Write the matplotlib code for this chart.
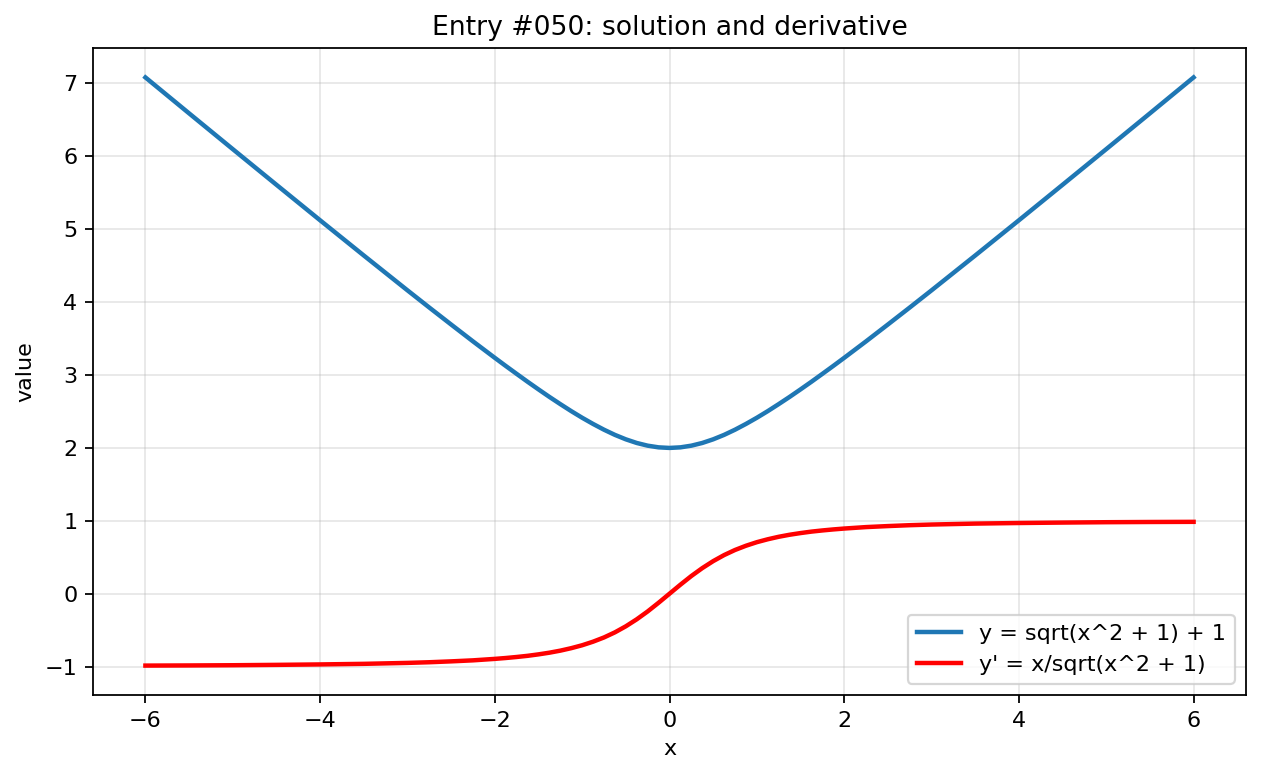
import matplotlib
matplotlib.use("Agg")
import matplotlib.pyplot as plt

#points (denser near the middle where the curves bend)
x_vals = [-6, -5.5, -5, -4.5, -4, -3.5, -3, -2.75, -2.5, -2.25, -2, -1.875, -1.75, -1.625, -1.5,
          -1.375, -1.25, -1.125, -1, -0.875, -0.75, -0.625, -0.5, -0.375, -0.25, -0.125,
          0,
          0.125, 0.25, 0.375, 0.5, 0.625, 0.75, 0.875, 1, 1.125, 1.25, 1.375, 1.5, 1.625, 1.75,
          1.875, 2, 2.25, 2.5, 2.75, 3, 3.5, 4, 4.5, 5, 5.5, 6]
y_vals = [7.083, 6.590, 6.099, 5.610, 5.123, 4.640, 4.162, 3.926, 3.693, 3.462, 3.236, 3.125, 3.016,
          2.908, 2.803, 2.700, 2.601, 2.505, 2.414, 2.329, 2.250, 2.179, 2.118, 2.068, 2.031, 2.008,
          2.000,
          2.008, 2.031, 2.068, 2.118, 2.179, 2.250, 2.329, 2.414, 2.505, 2.601, 2.700, 2.803, 2.908,
          3.016, 3.125, 3.236, 3.462, 3.693, 3.926, 4.162, 4.640, 5.123, 5.610, 6.099, 6.590, 7.083]
dy_vals = [-0.986, -0.984, -0.981, -0.976, -0.970, -0.962, -0.949, -0.940, -0.928, -0.914, -0.894,
           -0.882, -0.868, -0.852, -0.832, -0.809, -0.781, -0.747, -0.707, -0.658, -0.600, -0.530,
           -0.447, -0.351, -0.243, -0.124,
           0.0,
           0.124, 0.243, 0.351, 0.447, 0.530, 0.600, 0.658, 0.707, 0.747, 0.781, 0.809, 0.832, 0.852,
           0.868, 0.882, 0.894, 0.914, 0.928, 0.940, 0.949, 0.962, 0.970, 0.976, 0.981, 0.984, 0.986]

fig = plt.figure(figsize=(1261 / 160, 776 / 160), dpi=160)
ax = fig.add_axes([93 / 1261, 1 - 695 / 776, (1246 - 93) / 1261, (695 - 48) / 776])

ax.plot(x_vals, y_vals, color="#1f77b4", lw=2, label="y = sqrt(x^2 + 1) + 1")
ax.plot(x_vals, dy_vals, color="red", lw=2, label="y' = x/sqrt(x^2 + 1)")

ax.set_title("Entry #050: solution and derivative")
ax.set_xlabel("x")
ax.set_ylabel("value")
ax.grid(True, alpha=0.3)
ax.legend(loc="lower right")

fig.savefig("out.png", dpi=160)
